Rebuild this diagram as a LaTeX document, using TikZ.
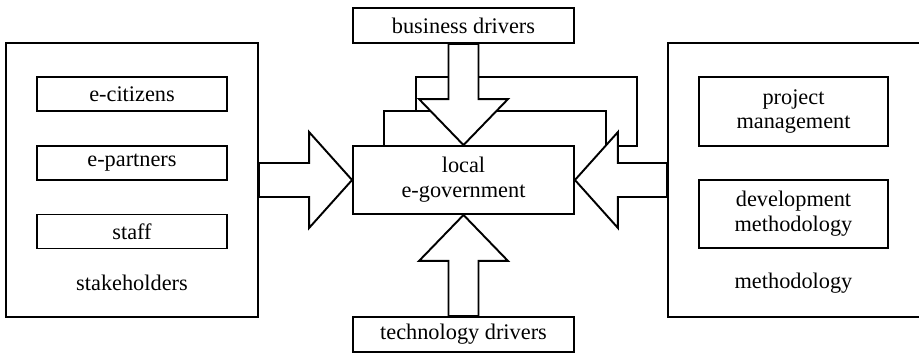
\documentclass[tikz,border=0pt]{standalone}
\usepackage{fontspec}
\setmainfont{Liberation Serif}
\usetikzlibrary{calc}

\tikzset{
	box/.style={draw,line width=1.1pt,align=center,inner sep=0pt},
	label/.style={align=center},
	fat/.style={draw,fill=white,line width=1.1pt,line join=miter},
	loop/.style={line width=1.1pt,line join=miter},
}

% block arrow: from, to, shaft half width, head half width, head length
\newcommand{\fatarrow}[5]{%
	\path ($(#2)!#5!(#1)$) coordinate (fahead);
	\filldraw[fat] ($(#1)!#3!90:(#2)$) -- ($(fahead)!#3!90:(#2)$) -- ($(fahead)!#4!90:(#2)$) -- (#2)
		-- ($(fahead)!#4!-90:(#2)$) -- ($(fahead)!#3!-90:(#2)$) -- ($(#1)!#3!-90:(#2)$) -- cycle;
}

\begin{document}
\begin{tikzpicture}[x=0.02cm,y=-0.02cm,font=\fontsize{12.7}{14.2}\selectfont]
	\clip (0,0) rectangle (919,353);

	\node[box,minimum width=4.42cm,minimum height=1.36cm] (egov) at (463.5,180) {local\\e-government};
	\node[box,minimum width=4.42cm,minimum height=0.70cm] (biz) at (463.5,25.5) {business drivers};
	\node[box,minimum width=4.42cm,minimum height=0.70cm] (tech) at (463.5,334.5) {technology drivers};

	\node[box,minimum width=5.04cm,minimum height=5.48cm] (stake) at (132,180) {};
	\node[box,minimum width=3.80cm,minimum height=0.68cm] (cit) at (132,94) {e-citizens};
	\node[box,minimum width=3.80cm,minimum height=0.68cm] (part) at (132,163) {e-partners};
	\node[box,minimum width=3.80cm,minimum height=0.68cm] (staff) at (132,231.5) {staff};
	\node[label] (stakel) at (132,283) {stakeholders};

	\node[box,minimum width=5.14cm,minimum height=5.48cm] (meth) at (796.5,180) {};
	\node[box,minimum width=3.78cm,minimum height=1.38cm] (pm) at (793.5,111.5) {project\\management};
	\node[box,minimum width=3.78cm,minimum height=1.36cm] (dm) at (793.5,214) {development\\methodology};
	\node[label] (methl) at (793.5,283) {methodology};

	% feedback loops
	\coordinate (inend) at (606,150);
	\coordinate (outstart) at (416,111);
	\coordinate (outend) at (616,146);
	\draw[loop] ([xshift=-1.59cm]egov.north) |- (606,111) -- (inend);
	\draw[loop] (outstart) |- (637,77) |- (outend);

	\fatarrow{stake.east}{egov.west}{0.34cm}{0.96cm}{0.86cm}
	\fatarrow{meth.west}{egov.east}{0.34cm}{0.96cm}{0.86cm}
	\fatarrow{biz.south}{egov.north}{0.30cm}{0.89cm}{0.92cm}
	\fatarrow{tech.north}{egov.south}{0.30cm}{0.89cm}{0.92cm}
\end{tikzpicture}
\end{document}
